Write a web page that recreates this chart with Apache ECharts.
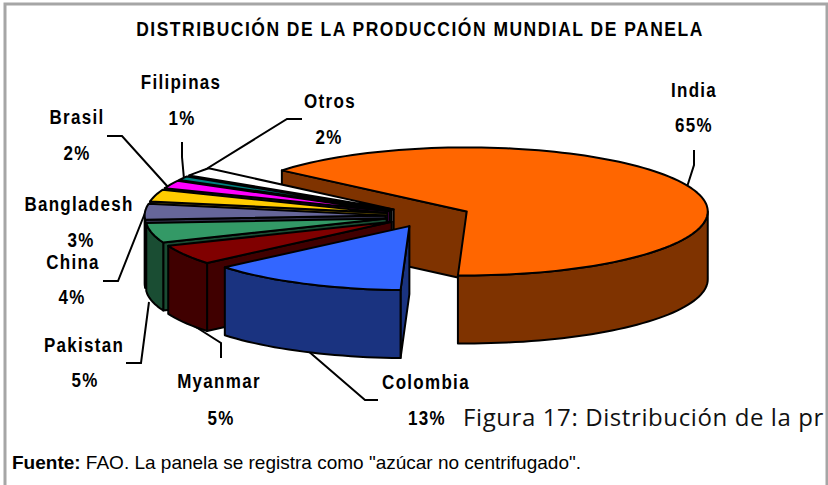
<!DOCTYPE html>
<html><head><meta charset="utf-8">
<script src="https://cdn.jsdelivr.net/npm/echarts@6/dist/echarts.min.js"></script>
<style>
html,body{margin:0;padding:0;background:#fff;overflow:hidden}
#main{width:828px;height:485px}
#main text[style*="Liberation Sans"]{letter-spacing:1.3px}
#main text[style*="17.5px"]{letter-spacing:1.5px}
#main text[style*="Open Sans"]{letter-spacing:0.6px}
</style></head><body><div id="main"></div>
<script>
// ---- data ----
var categories = ['India','Colombia','Myanmar','Pakistan','China','Bangladesh','Brasil','Filipinas','Otros'];
var shares     = [64.5,13.3,5,5,4,3,2,1,2.2];
var topColors  = ['#FF6600','#3366FF','#800000','#339966','#666699','#FFCC00','#FF00FF','#008080','#FFFFFF'];
var sideColors = ['#7F3300','#1A3380','#400000','#1A4D33','#33334D','#806600','#800080','#004040','#808080'];
var paintOrder = [0,8,7,6,5,4,3,2,1];

// ---- layout ----
var PIE = {cx:428, cy:216, rx:241, ry:64, depth:68, explode:0.176, start:219.9};
var labelPos = {
  India:[694,90,694,125], Otros:[330,101,329,137], Filipinas:[181,82,182,118], Brasil:[77,117,77,153],
  Bangladesh:[79,204,81,240], China:[73,262,72,297], Pakistan:[84,345,85,380], Myanmar:[219,381,221,418], Colombia:[426,382,427,418]
};
var leaders = {
  India:[[694,150],[694,165],[687,187]], Colombia:[[307,350],[365,400],[378,400]], Myanmar:[[188,322],[221,343],[221,358]],
  Pakistan:[[149,302],[141,363],[126,363]], China:[[145,213],[118,281],[103,281]], Brasil:[[168,187],[122,136],[107,136]],
  Filipinas:[[184,179],[182,157],[182,142]], Otros:[[195,176],[287,119],[302,119]]
};

var total = shares.reduce(function(a,b){return a+b;},0);
var slices = [], acc = PIE.start;
shares.forEach(function(v,i){
  var a0 = acc, a1 = acc + v/total*360; acc = a1;
  var mid = (a0+a1)/2*Math.PI/180;
  slices.push({a0:a0,a1:a1,
    ax:PIE.cx+PIE.explode*PIE.rx*Math.cos(mid),
    ay:PIE.cy+PIE.explode*PIE.ry*Math.sin(mid)});
});
function pt(s,deg,dy){var r=deg*Math.PI/180;return [s.ax+PIE.rx*Math.cos(r), s.ay+PIE.ry*Math.sin(r)+(dy||0)];}
function arc(s,a,b,dy){var n=Math.max(2,Math.ceil(Math.abs(b-a)/2)),o=[];for(var k=0;k<=n;k++)o.push(pt(s,a+(b-a)*k/n,dy));return o;}
var lineStyle={stroke:'#000',lineWidth:2,lineJoin:'round'};
function poly(points,fill){return {type:'polygon',shape:{points:points},style:Object.assign({fill:fill},lineStyle)};}

function renderSlice(params,api){
  var i=api.value(0), s=slices[i], kids=[], d=PIE.depth;
  // visible radial wall under the start edge
  var p0=pt(s,s.a0);
  kids.push(poly([[s.ax,s.ay],p0,[p0[0],p0[1]+d],[s.ax,s.ay+d]],sideColors[i]));
  // visible outer wall: front half of the ellipse
  [[0,180],[360,540]].forEach(function(r){
    var a=Math.max(s.a0,r[0]), b=Math.min(s.a1,r[1]);
    if(b>a){kids.push(poly(arc(s,a,b,0).concat(arc(s,b,a,d)),sideColors[i]));}
  });
  kids.push(poly([[s.ax,s.ay]].concat(arc(s,s.a0,s.a1,0)),topColors[i]));
  return {type:'group',children:kids};
}
function renderLeader(params,api){
  var pts=leaders[categories[api.value(0)]];
  if(!pts) return null;
  return {type:'polyline',shape:{points:pts},style:{stroke:'#000',lineWidth:2,fill:null}};
}
var labelFont={fontFamily:'Liberation Sans',fontWeight:'bold',fontSize:17,fill:'#000',align:'center',verticalAlign:'middle'};
function renderLabel(params,api){
  var name=categories[api.value(0)], p=labelPos[name];
  return {type:'group',children:[
    {type:'text',x:p[0],y:p[1],scaleY:1.15,style:Object.assign({text:name},labelFont)},
    {type:'text',x:p[2],y:p[3],scaleY:1.15,style:Object.assign({text:Math.round(api.value(1))+'%'},labelFont)}
  ]};
}
var labelData=shares.map(function(v,i){return [i,v];});

var chart=echarts.init(document.getElementById('main'),null,{renderer:'svg',width:828,height:485});
chart.setOption({
  animation:false,
  backgroundColor:'#fff',
  series:[
    {type:'custom',coordinateSystem:'none',silent:true,z:2,renderItem:renderLeader,data:labelData},
    {type:'custom',coordinateSystem:'none',silent:true,z:3,renderItem:renderSlice,data:paintOrder.map(function(i){return [i];})},
    {type:'custom',coordinateSystem:'none',silent:true,z:4,renderItem:renderLabel,data:labelData}
  ],
  graphic:[
    {type:'text',x:420,y:29,z:5,scaleY:1.15,style:Object.assign({},labelFont,{text:'DISTRIBUCIÓN DE LA PRODUCCIÓN MUNDIAL DE PANELA',fontSize:17.5})},
    {type:'text',x:463,y:416,z:5,style:{text:'Figura 17: Distribución de la pr',fontFamily:'Open Sans',fontSize:24,fill:'#111',verticalAlign:'middle'}},
    {type:'text',x:12,y:462,z:5,style:{
      text:'{b|Fuente:} FAO. La panela se registra como "azúcar no centrifugado".',
      fontFamily:'Arimo, Arial, sans-serif',fontSize:19,fill:'#000',verticalAlign:'middle',
      rich:{b:{fontWeight:'bold',fontFamily:'Arimo, Arial, sans-serif',fontSize:19,fill:'#000'}}}},
    {type:'rect',z:6,shape:{x:5,y:4,width:822,height:500},style:{fill:null,stroke:'#a6a6a6',lineWidth:3}}
  ]
});
</script></body></html>
